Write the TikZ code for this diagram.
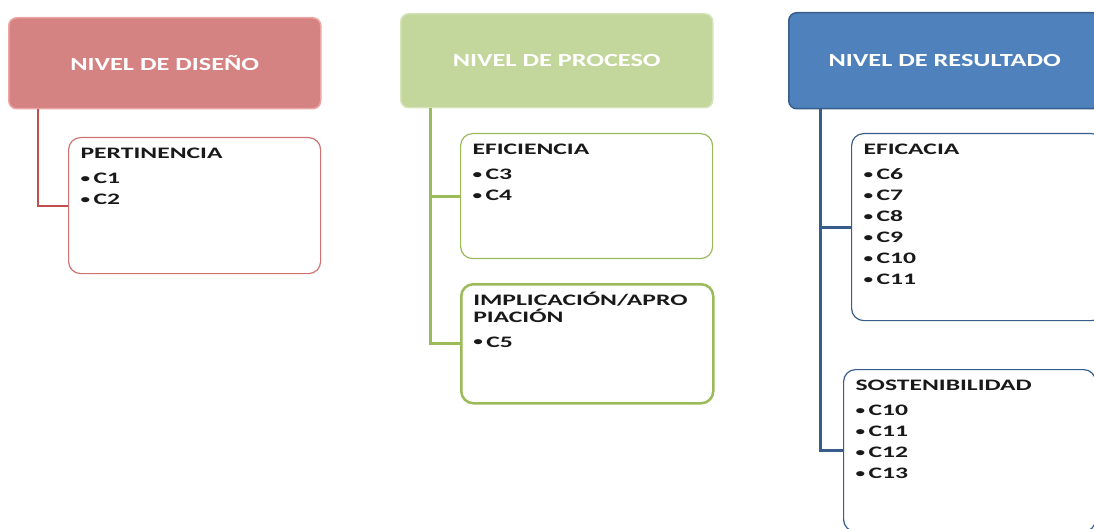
\documentclass[tikz,border=0pt]{standalone}
\usepackage{fontspec}
\setmainfont{Carlito}
\newfontfamily\hdrfont[FakeStretch=1.42]{Carlito}
\newfontfamily\critfont[FakeStretch=1.6]{Carlito}
\usetikzlibrary{positioning}
\definecolor{Diseno}{RGB}{213,130,130}
\definecolor{DisenoEdge}{RGB}{236,166,166}
\definecolor{DisenoLine}{RGB}{192,80,77}
\definecolor{Proceso}{RGB}{195,214,155}
\definecolor{ProcesoEdge}{RGB}{214,228,188}
\definecolor{ProcesoLine}{RGB}{155,187,89}
\definecolor{Resultado}{RGB}{79,129,189}
\definecolor{ResultadoLine}{RGB}{56,93,138}
\definecolor{CritText}{RGB}{25,25,25}
\newcommand{\CritBox}[3]{% height title items
\parbox[c][#1][t]{228pt}{\critfont\bfseries\fontsize{16}{17}\selectfont
\vspace*{7pt}\rule{0pt}{14pt}#2\par
\fontsize{16}{21}\selectfont\vspace{4pt}#3}%
}
\newcommand{\Crit}[1]{\makebox[13pt][l]{\raisebox{1.5pt}{\fontsize{12}{12}\selectfont\textbullet}}#1\par}
\tikzset{
nivel/.style={rounded corners=8pt,minimum width=312pt,inner sep=0pt,anchor=north west,
  text=white,font=\hdrfont\bfseries\fontsize{18.5}{20}\selectfont,line width=1.5pt},
crit/.style={draw,rounded corners=12pt,fill=white,inner xsep=12pt,inner ysep=0pt,
  anchor=north west,text=CritText,line width=1.2pt},
}
\begin{document}
\begin{tikzpicture}[x=1pt,y=-1pt]
\useasboundingbox (0,0) rectangle (1094,529);
% design level
\node[nivel,fill=Diseno,draw=DisenoEdge,minimum height=91pt] (dis) at (8,17) {\raisebox{-2pt}{NIVEL DE DISEÑO}};
\node[crit,draw=DisenoLine!80] (per) at (68,137) {\CritBox{136pt}{PERTINENCIA}{\Crit{C1}\Crit{C2}}};
\draw[DisenoLine,line width=2pt] ([xshift=30pt]dis.south west) |- (per.west);
% process level
\node[nivel,fill=Proceso,draw=ProcesoEdge,minimum height=94pt] (pro) at (400,13) {NIVEL DE PROCESO};
\node[crit,draw=ProcesoLine] (efi) at (460,133) {\CritBox{125pt}{EFICIENCIA}{\Crit{C3}\Crit{C4}}};
\node[crit,draw=ProcesoLine,line width=2.5pt] (imp) at (460,283) {\CritBox{119pt}{IMPLICACIÓN/APRO\\PIACIÓN}{\Crit{C5}}};
\draw[ProcesoLine,line width=3pt] ([xshift=30pt]pro.south west) |- (imp.west);
\draw[ProcesoLine,line width=3pt] ([xshift=30pt]pro.south west) |- (efi.west);
% result level
\node[nivel,fill=Resultado,draw=ResultadoLine,minimum height=96pt] (res) at (788,12) {NIVEL DE RESULTADO};
\node[crit,draw=ResultadoLine] (efc) at (851,133) {\CritBox{187pt}{EFICACIA}{\Crit{C6}\Crit{C7}\Crit{C8}\Crit{C9}\Crit{C10}\Crit{C11}}};
\node[crit,draw=ResultadoLine] (sos) at (843,369) {\CritBox{162pt}{SOSTENIBILIDAD}{\Crit{C10}\Crit{C11}\Crit{C12}\Crit{C13}}};
\draw[ResultadoLine,line width=3pt] ([xshift=32pt]res.south west) |- (sos.west);
\draw[ResultadoLine,line width=3pt] ([xshift=32pt]res.south west) |- (efc.west);
\end{tikzpicture}
\end{document}
